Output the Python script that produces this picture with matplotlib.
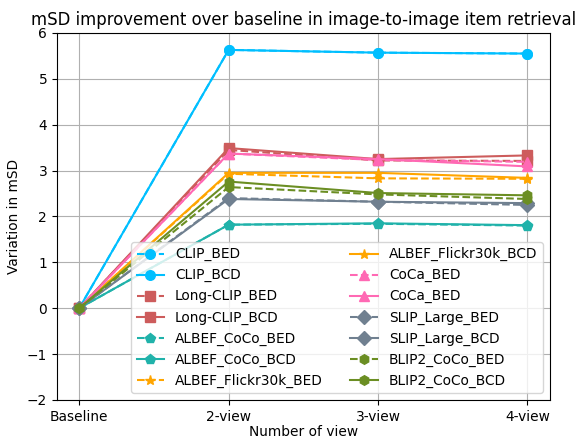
import matplotlib
matplotlib.use("Agg")
import matplotlib.pyplot as plt

views = ["Baseline", "2-view", "3-view", "4-view"]

CLIP_BED = [0, 5.63, 5.57, 5.55]
CLIP_BCD = [0, 5.63, 5.57, 5.55]
LONGCLIP_BED = [0, 3.45, 3.22, 3.21]
LONGCLIP_BCD = [0, 3.49, 3.25, 3.33]
ALBEF_COCO_BED = [0, 1.82, 1.84, 1.80]
ALBEF_COCO_BCD = [0, 1.82, 1.85, 1.81]
ALBEF_FLICKR_BED = [0, 2.93, 2.83, 2.82]
ALBEF_FLICKR_BCD = [0, 2.95, 2.95, 2.84]
COCA_BED = [0, 3.37, 3.23, 3.19]
COCA_BCD = [0, 3.37, 3.25, 3.09]
SLIP_BED = [0, 2.40, 2.32, 2.25]
SLIP_BCD = [0, 2.38, 2.32, 2.29]
BLIP2_BED = [0, 2.64, 2.48, 2.38]
BLIP2_BCD = [0, 2.76, 2.51, 2.46]

series = [
    ("CLIP_BED", CLIP_BED, "deepskyblue", "o", "--"),
    ("CLIP_BCD", CLIP_BCD, "deepskyblue", "o", "-"),
    ("Long-CLIP_BED", LONGCLIP_BED, "indianred", "s", "--"),
    ("Long-CLIP_BCD", LONGCLIP_BCD, "indianred", "s", "-"),
    ("ALBEF_CoCo_BED", ALBEF_COCO_BED, "lightseagreen", "p", "--"),
    ("ALBEF_CoCo_BCD", ALBEF_COCO_BCD, "lightseagreen", "p", "-"),
    ("ALBEF_Flickr30k_BED", ALBEF_FLICKR_BED, "orange", "*", "--"),
    ("ALBEF_Flickr30k_BCD", ALBEF_FLICKR_BCD, "orange", "*", "-"),
    ("CoCa_BED", COCA_BED, "hotpink", "^", "--"),
    ("CoCa_BED", COCA_BCD, "hotpink", "^", "-"),
    ("SLIP_Large_BED", SLIP_BED, "slategray", "D", "--"),
    ("SLIP_Large_BCD", SLIP_BCD, "slategray", "D", "-"),
    ("BLIP2_CoCo_BED", BLIP2_BED, "olivedrab", "h", "--"),
    ("BLIP2_CoCo_BCD", BLIP2_BCD, "olivedrab", "h", "-"),
]

DPI = 99
fig, ax = plt.subplots(figsize=(580 / DPI, 439 / DPI), dpi=DPI)
fig.subplots_adjust(left=0.098, right=0.948, top=0.925, bottom=0.089)

for label, vals, color, marker, ls in series:
    ax.plot(views, vals, color=color, marker=marker, linestyle=ls,
            markersize=7, label=label)

ax.set_ylim(-2, 6)
ax.grid(True)
ax.set_title("mSD improvement over baseline in image-to-image item retrieval")
ax.set_xlabel("Number of view", labelpad=1)
ax.set_ylabel("Variation in mSD")
ax.legend(ncol=2, loc="lower right")

fig.savefig("out.png", dpi=DPI)
